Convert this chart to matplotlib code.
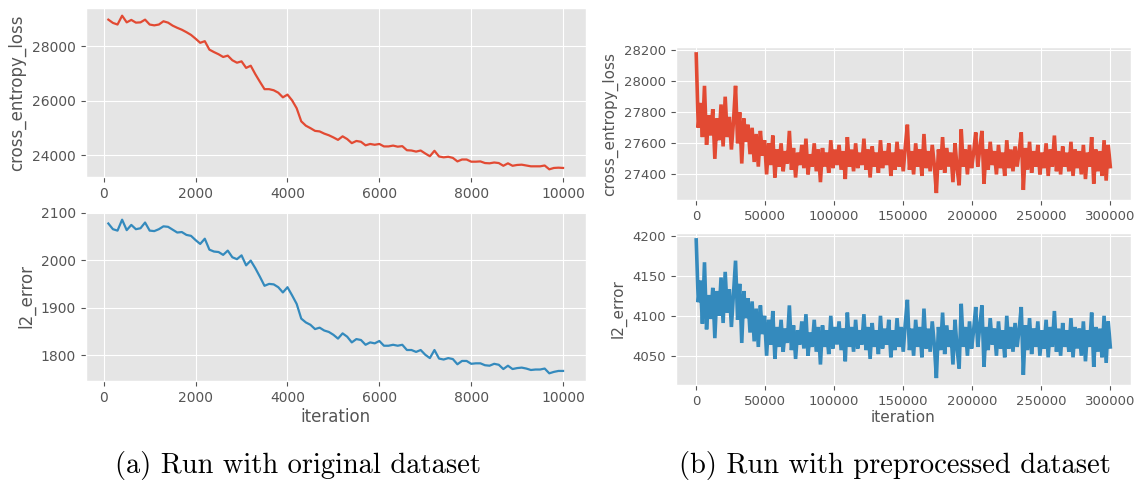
import numpy as np
import matplotlib
matplotlib.use("Agg")
import matplotlib.pyplot as plt

plt.style.use("ggplot")

# ---- (a) original dataset: logged every 100 iterations ----
iter_a = np.arange(100, 10001, 100)
ce_a = [28970, 28850, 28790, 29115, 28870, 28960, 28860, 28870, 28970, 28790,
        28760, 28790, 28910, 28860, 28750, 28670, 28600, 28510, 28410, 28270,
        28120, 28180, 27870, 27780, 27700, 27600, 27650, 27480, 27390, 27440,
        27200, 27280, 26970, 26690, 26420, 26420, 26380, 26290, 26120, 26220,
        26010, 25720, 25240, 25080, 24990, 24890, 24870, 24790, 24730, 24650,
        24560, 24690, 24590, 24440, 24520, 24490, 24360, 24410, 24380, 24410,
        24320, 24320, 24350, 24310, 24330, 24180, 24170, 24130, 24170, 24060,
        23960, 24160, 23950, 23920, 23940, 23900, 23770, 23840, 23840, 23760,
        23760, 23770, 23710, 23700, 23730, 23710, 23610, 23700, 23610, 23640,
        23650, 23620, 23590, 23590, 23590, 23620, 23480, 23530, 23540, 23530]
l2_a = [2077, 2065, 2062, 2085, 2063, 2074, 2065, 2067, 2079, 2062,
        2061, 2065, 2071, 2070, 2064, 2058, 2059, 2053, 2051, 2042,
        2034, 2045, 2022, 2018, 2017, 2011, 2020, 2006, 2002, 2010,
        1989, 1999, 1983, 1965, 1946, 1950, 1949, 1943, 1932, 1943,
        1926, 1908, 1877, 1869, 1864, 1855, 1858, 1852, 1849, 1843,
        1835, 1846, 1839, 1827, 1834, 1832, 1822, 1827, 1825, 1830,
        1820, 1820, 1822, 1820, 1822, 1811, 1811, 1807, 1811, 1801,
        1794, 1811, 1793, 1791, 1794, 1792, 1781, 1788, 1788, 1782,
        1783, 1783, 1779, 1778, 1782, 1780, 1771, 1778, 1771, 1773,
        1774, 1772, 1769, 1770, 1770, 1772, 1762, 1765, 1767, 1767]

# ---- (b) preprocessed dataset: values read every 1500 iterations ----
iter_b = np.arange(0, 300001, 1500)
ce_b = [28175, 27700, 27860, 27640, 27970, 27590, 27780, 27650, 27820, 27500,
        27760, 27620, 27850, 27580, 27900, 27640, 27770, 27560, 27740, 27970,
        27600, 27800, 27470, 27760, 27610, 27720, 27530, 27700, 27480, 27660,
        27450, 27680, 27520, 27620, 27400, 27600, 27460, 27650, 27380, 27560,
        27450, 27600, 27420, 27550, 27470, 27680, 27430, 27570, 27380, 27540,
        27460, 27590, 27440, 27630, 27400, 27530, 27450, 27600, 27420, 27560,
        27350, 27570, 27450, 27540, 27410, 27620, 27440, 27560, 27460, 27590,
        27430, 27550, 27370, 27640, 27450, 27560, 27420, 27600, 27440, 27540,
        27460, 27630, 27430, 27560, 27380, 27580, 27450, 27540, 27410, 27620,
        27440, 27550, 27460, 27600, 27390, 27540, 27430, 27610, 27450, 27560,
        27420, 27580, 27720, 27430, 27550, 27400, 27600, 27450, 27560, 27390,
        27660, 27440, 27550, 27420, 27590, 27460, 27280, 27560, 27430, 27640,
        27410, 27570, 27450, 27540, 27350, 27600, 27440, 27330, 27690, 27450,
        27560, 27400, 27590, 27440, 27540, 27670, 27450, 27570, 27680, 27340,
        27560, 27430, 27610, 27460, 27550, 27400, 27590, 27440, 27540, 27390,
        27620, 27440, 27560, 27420, 27580, 27450, 27550, 27670, 27300, 27570,
        27430, 27610, 27410, 27550, 27450, 27590, 27400, 27540, 27440, 27600,
        27390, 27560, 27450, 27650, 27420, 27550, 27400, 27580, 27450, 27540,
        27420, 27610, 27390, 27560, 27440, 27550, 27400, 27590, 27370, 27540,
        27450, 27640, 27340, 27560, 27420, 27550, 27390, 27620, 27360, 27590,
        27450]
l2_b = [4195, 4117, 4144, 4090, 4167, 4083, 4126, 4096, 4135, 4072,
        4131, 4100, 4148, 4091, 4155, 4104, 4133, 4086, 4127, 4169,
        4095, 4140, 4066, 4131, 4097, 4122, 4079, 4118, 4068, 4109,
        4061, 4113, 4077, 4100, 4050, 4095, 4064, 4106, 4046, 4086,
        4061, 4095, 4055, 4084, 4066, 4113, 4057, 4088, 4046, 4082,
        4064, 4093, 4059, 4102, 4050, 4079, 4061, 4095, 4055, 4086,
        4039, 4088, 4061, 4082, 4052, 4100, 4059, 4086, 4064, 4093,
        4057, 4084, 4043, 4104, 4061, 4086, 4055, 4095, 4059, 4082,
        4064, 4102, 4057, 4086, 4046, 4091, 4061, 4082, 4052, 4100,
        4059, 4084, 4064, 4095, 4048, 4082, 4057, 4097, 4061, 4086,
        4055, 4091, 4120, 4057, 4084, 4050, 4095, 4061, 4086, 4048,
        4109, 4059, 4084, 4055, 4093, 4064, 4022, 4086, 4057, 4104,
        4052, 4088, 4061, 4082, 4039, 4095, 4059, 4034, 4115, 4061,
        4086, 4050, 4093, 4059, 4082, 4111, 4061, 4088, 4113, 4036,
        4086, 4057, 4097, 4064, 4084, 4050, 4093, 4059, 4082, 4048,
        4100, 4059, 4086, 4055, 4091, 4061, 4084, 4111, 4026, 4088,
        4057, 4097, 4052, 4084, 4061, 4093, 4050, 4082, 4059, 4095,
        4048, 4086, 4061, 4106, 4055, 4084, 4050, 4091, 4061, 4082,
        4055, 4097, 4048, 4086, 4059, 4084, 4050, 4093, 4043, 4082,
        4061, 4104, 4036, 4086, 4055, 4084, 4048, 4100, 4041, 4093,
        4061]

captions = ["(a) Run with original dataset", "(b) Run with preprocessed dataset"]

W, H = 1136, 483
fig = plt.figure(figsize=(W / 100, H / 100), dpi=100)


def box(left, top, right, bottom):
    # pixel box -> figure fraction
    return [left / W, 1 - bottom / H, (right - left) / W, (bottom - top) / H]


red, blue = "#E24A33", "#348ABD"

# left panel
ax1 = fig.add_axes(box(85.6, 8, 585.8, 177))
ax1.plot(iter_a, ce_a, color=red, lw=1.6)
ax1.set_ylabel("cross_entropy_loss", fontsize=12)
ax1.set_yticks([24000, 26000, 28000])

ax2 = fig.add_axes(box(85.6, 212, 585.8, 381))
ax2.plot(iter_a, l2_a, color=blue, lw=1.6)
ax2.set_ylabel("l2_error", fontsize=12)
ax2.set_xlabel("iteration", fontsize=12, labelpad=2)
ax2.set_yticks([1800, 1900, 2000, 2100])

for ax in (ax1, ax2):
    ax.set_xticks(range(0, 10001, 2000))
    ax.tick_params(labelsize=10)

# right panel - dense noisy traces, thick line so the band reads solid
ax3 = fig.add_axes(box(675.5, 47, 1131, 200))
ax3.plot(iter_b, ce_b, color=red, lw=2.6, solid_joinstyle="miter")
ax3.set_ylabel("cross_entropy_loss", fontsize=11)
ax3.set_yticks([27400, 27600, 27800, 28000, 28200])

ax4 = fig.add_axes(box(675.5, 233, 1131, 385))
ax4.plot(iter_b, l2_b, color=blue, lw=2.6, solid_joinstyle="miter")
ax4.set_ylabel("l2_error", fontsize=11)
ax4.set_xlabel("iteration", fontsize=11, labelpad=2)
ax4.set_yticks([4050, 4100, 4150, 4200])

for ax in (ax3, ax4):
    ax.set_xticks(range(0, 300001, 50000))
    ax.tick_params(labelsize=9.5)

# captions in a LaTeX-like serif
fig.text(298 / W, 1 - 466 / H, captions[0], family="cmr10", fontsize=20.5,
         ha="center", va="center", color="black")
fig.text(895 / W, 1 - 466 / H, captions[1], family="cmr10", fontsize=20.5,
         ha="center", va="center", color="black")

fig.savefig("out.png", dpi=100)
